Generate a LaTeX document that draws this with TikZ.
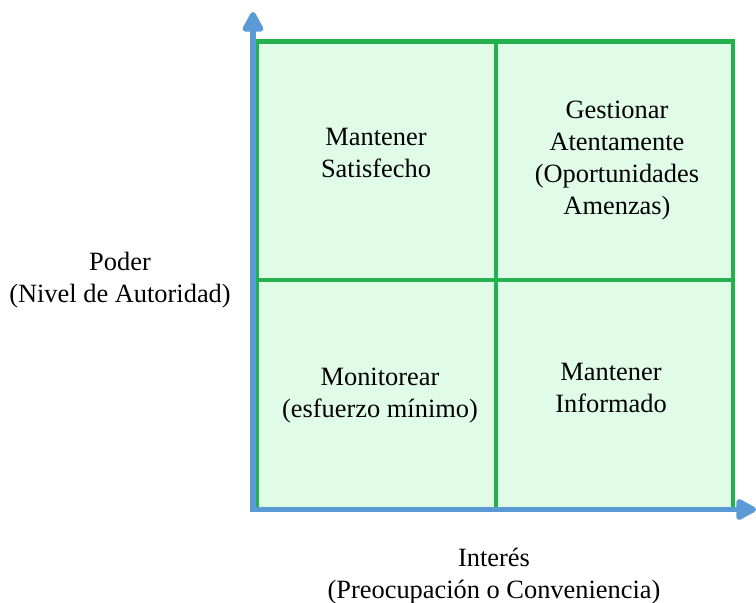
\documentclass[tikz,border=0pt]{standalone}
\usepackage{fontspec}
\setmainfont{Liberation Serif}
\usetikzlibrary{arrows.meta}
\definecolor{cellfill}{RGB}{224,252,232}
\definecolor{gridgreen}{RGB}{35,177,77}
\definecolor{axisblue}{RGB}{91,155,213}
\begin{document}
\begin{tikzpicture}[x=1pt,y=-1pt,
  cell/.style={fill=cellfill,draw=none},
  gridline/.style={draw=gridgreen,line width=4.5pt},
  axis/.style={draw=axisblue,line width=5.5pt,
    -{Triangle[width=23pt,length=23pt,round]}},
  label/.style={align=center,inner sep=0pt,anchor=base,
    font=\fontsize{26.4}{32}\selectfont}]
\useasboundingbox (0,0) rectangle (756,603);
% grid corners
\coordinate (tl) at (256.5,41.5);
\coordinate (br) at (733,509);
\coordinate (tm) at (496,41.5);
\coordinate (bm) at (496,509);
\coordinate (lm) at (256.5,280);
\coordinate (rm) at (733,280);
% cells
\fill[cell] (tl) rectangle (br);
\draw[gridline] (tl) rectangle (br);
\draw[gridline] (tm) -- (bm);
\draw[gridline] (lm) -- (rm);
% axes
\coordinate (ytip) at (253,12);
\coordinate (xtip) at (756,509.5);
\draw[axis] (253,512) -- (ytip);
\draw[axis] (250,509.5) -- (xtip);
% quadrant texts (anchored on the baseline of the last line)
\node[label] (q1) at (376,177) {Mantener\\Satisfecho};
\node[label] (q2) at (617,214) {Gestionar\\Atentamente\\(Oportunidades\\Amenzas)};
\node[label] (q3) at (380,417) {Monitorear\\(esfuerzo mínimo)};
\node[label] (q4) at (611,412) {Mantener\\Informado};
% axis titles
\node[label] (ylab) at (120,302) {Poder\\(Nivel de Autoridad)};
\node[label] (xlab) at (494,598) {Interés\\(Preocupación o Conveniencia)};
\end{tikzpicture}
\end{document}
